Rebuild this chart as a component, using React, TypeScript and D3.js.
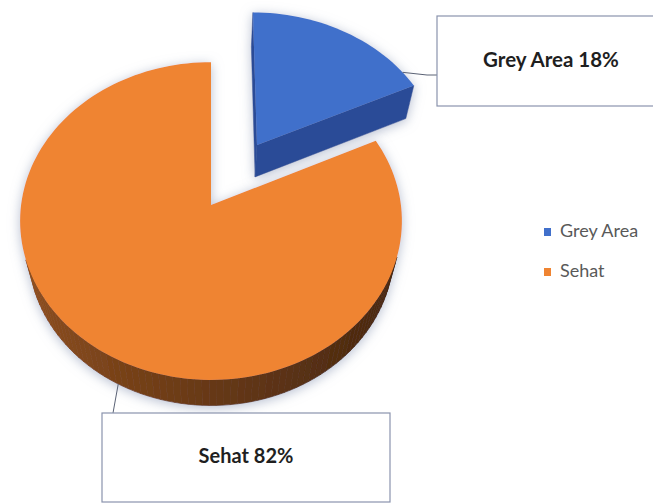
import React from "react";
import * as d3 from "d3";

const categories = ["Grey Area", "Sehat"];
const values = [18, 82];
const topColors = ["#4170CB", "#EF8432"];
const cutColors = ["#2B4C97", "#8A4215"];
const explode = [0.47, 0];

const W = 653;
const H = 504;

// 3D projection parameters (unit-radius pie)
const CX = 211;
const CY = 205;
const PHI_SIN = 0.828;
const PHI_COS = Math.sqrt(1 - PHI_SIN * PHI_SIN);
const DIST = 5.56;
const FOCAL = 1056;
const THICK = 0.3;

function project(x: number, y: number, z: number): [number, number] {
  const d = DIST - y * PHI_SIN + z * PHI_COS;
  const u = y * PHI_COS + z * PHI_SIN;
  return [CX + (FOCAL * x) / d, CY - (FOCAL * u) / d];
}
const CAM: [number, number, number] = [0, DIST * PHI_SIN, -DIST * PHI_COS];

function visible(p: [number, number, number], n: [number, number, number]) {
  return n[0] * (CAM[0] - p[0]) + n[1] * (CAM[1] - p[1]) + n[2] * (CAM[2] - p[2]) > 0;
}

const pathOf = (pts: [number, number][]) =>
  "M" + pts.map((p) => p[0].toFixed(2) + "," + p[1].toFixed(2)).join("L") + "Z";

function shade(base: string, k: number) {
  const c = d3.rgb(base);
  return d3.rgb(c.r * k, c.g * k, c.b * k).formatHex();
}

export default function App() {
  const pie = d3.pie<number>().sort(null).value((d) => d);
  const arcs = pie(values);
  const total = d3.sum(values);

  const slices = arcs.map((a, i) => {
    const mid = (a.startAngle + a.endAngle) / 2;
    const ox = explode[i] * Math.sin(mid);
    const oz = explode[i] * Math.cos(mid);
    const n = Math.max(8, Math.ceil(((a.endAngle - a.startAngle) / (2 * Math.PI)) * 180));
    const angles = d3.range(n + 1).map((k) => a.startAngle + ((a.endAngle - a.startAngle) * k) / n);
    const rim = (t: number, y: number): [number, number, number] => [ox + Math.sin(t), y, oz + Math.cos(t)];
    const top: [number, number][] = [project(ox, 0, oz), ...angles.map((t) => project(...rim(t, 0)))];
    const sides: { d: string; fill: string }[] = [];
    for (let k = 0; k < n; k++) {
      const t0 = angles[k];
      const t1 = angles[k + 1];
      const tm = (t0 + t1) / 2;
      const nrm: [number, number, number] = [Math.sin(tm), 0, Math.cos(tm)];
      if (!visible(rim(tm, -THICK / 2), nrm)) continue;
      const light = 0.47 - 0.15 * Math.sin(tm) + 0.04 * Math.cos(tm);
      sides.push({
        d: pathOf([
          project(...rim(t0, 0)),
          project(...rim(t1, 0)),
          project(...rim(t1, -THICK)),
          project(...rim(t0, -THICK)),
        ]),
        fill: shade(topColors[i], light),
      });
    }
    const cuts: { d: string; fill: string }[] = [];
    const faces: [number, [number, number, number]][] = [
      [a.startAngle, [-Math.cos(a.startAngle), 0, Math.sin(a.startAngle)]],
      [a.endAngle, [Math.cos(a.endAngle), 0, -Math.sin(a.endAngle)]],
    ];
    faces.forEach(([t, nrm]) => {
      const e = rim(t, -THICK / 2);
      const pm: [number, number, number] = [(ox + e[0]) / 2, -THICK / 2, (oz + e[2]) / 2];
      if (!visible(pm, nrm)) return;
      cuts.push({
        d: pathOf([
          project(ox, 0, oz),
          project(...rim(t, 0)),
          project(...rim(t, -THICK)),
          project(ox, -THICK, oz),
        ]),
        fill: cutColors[i],
      });
    });
    return { i, depth: oz, top: pathOf(top), sides, cuts };
  });
  const order = [...slices].sort((a, b) => b.depth - a.depth);

  const pct = (v: number) => Math.round((v / total) * 100) + "%";

  // leader anchors on the slices
  const blueAnchorAngle = arcs[0].startAngle + (arcs[0].endAngle - arcs[0].startAngle) * 0.9;
  const bMid = (arcs[0].startAngle + arcs[0].endAngle) / 2;
  const bA = project(
    explode[0] * Math.sin(bMid) + Math.sin(blueAnchorAngle),
    0,
    explode[0] * Math.cos(bMid) + Math.cos(blueAnchorAngle)
  );
  const oAnchorAngle = (arcs[1].startAngle + arcs[1].endAngle) / 2 - 0.08;
  const oA = project(Math.sin(oAnchorAngle), -THICK, Math.cos(oAnchorAngle));

  return (
    <svg
      width={W}
      height={H}
      style={{ position: "fixed", left: 0, top: 0, background: "#fff" }}
      fontFamily="Lato, 'Open Sans', sans-serif"
    >
      <defs>
        <filter id="sh" x="-20%" y="-20%" width="140%" height="140%">
          <feDropShadow dx="0" dy="2" stdDeviation="6" floodColor="#8f9bb8" floodOpacity="0.65" />
        </filter>
      </defs>
      <rect width={W} height={H} fill="#fff" />
      {order.map((s) => (
        <g key={s.i} filter="url(#sh)">
          {s.sides.map((q, k) => (
            <path key={"s" + k} d={q.d} fill={q.fill} stroke={q.fill} strokeWidth={0.8} />
          ))}
          {s.cuts.map((q, k) => (
            <path key={"c" + k} d={q.d} fill={q.fill} stroke={q.fill} strokeWidth={0.5} />
          ))}
          <path d={s.top} fill={topColors[s.i]} />
        </g>
      ))}

      {/* Grey Area label */}
      <polyline
        points={`${bA[0]},${bA[1]} 427,75 437,75`}
        fill="none"
        stroke="#5a6275"
        strokeWidth={1}
      />
      <rect x={437} y={16} width={250} height={90} fill="#fff" stroke="#8a93ad" strokeWidth={1.2} />
      <text x={551} y={62} textAnchor="middle" dominantBaseline="middle" fontWeight="bold" fontSize={20.5} fill="#1f1f1f">
        {categories[0] + " " + pct(values[0])}
      </text>

      {/* Sehat label */}
      <line x1={oA[0]} y1={oA[1]} x2={113} y2={413} stroke="#5a6275" strokeWidth={1} />
      <rect x={102} y={413} width={288} height={89} fill="#fff" stroke="#8a93ad" strokeWidth={1.2} />
      <text x={246} y={458} textAnchor="middle" dominantBaseline="middle" fontWeight="bold" fontSize={20} fill="#1f1f1f">
        {categories[1] + " " + pct(values[1])}
      </text>

      {/* Legend */}
      {categories.map((c, i) => (
        <g key={c} transform={`translate(544, ${228 + i * 40})`}>
          <rect x={0} y={0} width={7} height={8} fill={topColors[i]} />
          <text x={16} y={4.5} dominantBaseline="middle" fontSize={18} fill="#595959">
            {c}
          </text>
        </g>
      ))}
    </svg>
  );
}
